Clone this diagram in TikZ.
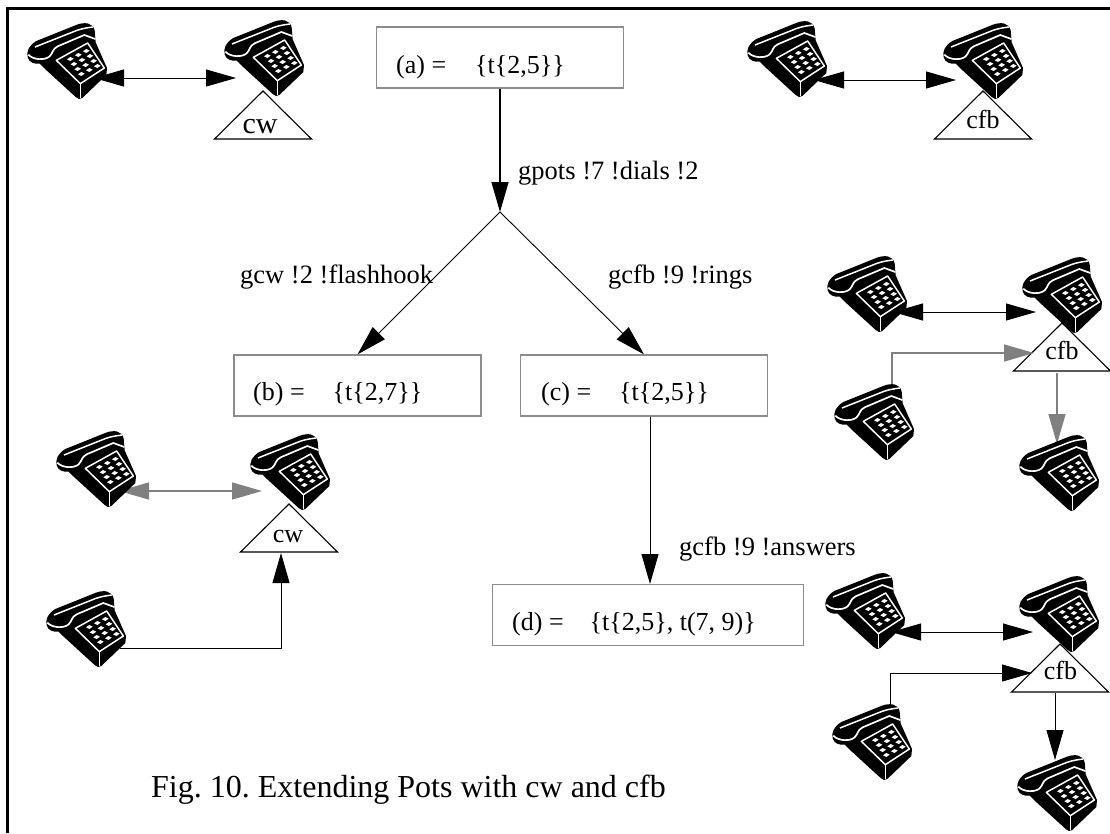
\documentclass[tikz,border=0pt]{standalone}
\usepackage{fontspec}
\setmainfont{Liberation Serif}
\usetikzlibrary{arrows.meta}
\tikzset{
  statebox/.style={draw=black!45,line width=1.2pt,minimum width=247pt,minimum height=61pt,inner sep=0pt},
  statetext/.style={anchor=base west,inner sep=0pt,font=\fontsize{26.5}{30}\selectfont},
  boxtext/.style={anchor=base west,inner sep=0pt,font=\fontsize{26}{30}\selectfont},
  featuretext/.style={anchor=base,inner sep=0pt,font=\fontsize{26}{30}\selectfont},
  oneway/.style={line width=0.9pt,-{Triangle[length=30pt,width=17pt]}},
  twoway/.style={line width=0.9pt,{Triangle[length=30pt,width=17pt]}-{Triangle[length=30pt,width=17pt]}},
  faded/.style={color=black!50,line width=1.5pt},
  feature/.style={draw,fill=white,line width=1.1pt,line join=miter},
  phone/.pic={
    \begin{scope}[scale=0.3333]
      % silhouette
      \fill (2,103) .. controls (-2,85) and (5,68) .. (28,54) -- (150,5)
        .. controls (172,-3) and (197,-2) .. (203,22) -- (206,58) -- (240,135)
        -- (238,156) -- (166,225) .. controls (160,230) and (152,229) .. (146,222)
        -- (52,136) -- (38,122) .. controls (22,124) and (6,118) .. (2,103) -- cycle;
      % white edges
      \draw[white,line width=1.5pt] (24,72) -- (150,22) .. controls (170,15) and (185,14) .. (198,12);
      \draw[white,line width=1.7pt] (4,95) .. controls (20,112) and (55,112) .. (68,100)
        .. controls (78,90) and (76,78) .. (92,70) -- (172,36) -- (205,48);
      \draw[white,line width=1.5pt,line join=round] (88,112) -- (182,60) -- (232,135) -- (160,182) -- cycle;
      \draw[white,line width=1.6pt] (160,182) -- (160,226);
      % keys
      \foreach \row in {0,1,2,3}
        \foreach \col in {0,1,2}
          \fill[white,shift={(130+24*\col+11*\row,108-12*\col+15*\row)}]
            (-10,1) -- (0,-6) -- (10,-1) -- (0,6) -- cycle;
    \end{scope}
  }
}
\begin{document}
\begin{tikzpicture}[x=1pt,y=-1pt]
  \useasboundingbox (0,0) rectangle (1110,833);
  % frame
  \draw[line width=3pt] (7,833) -- (7,8) -- (1110,8);

  % state boxes
  \node[statebox] (boxa) at (500,57.5) {};
  \node[statebox] (boxb) at (357.5,385.5) {};
  \node[statebox] (boxc) at (644,385.5) {};
  \node[statebox,minimum width=311pt] (boxd) at (648,615) {};
  \node[boxtext] (texta) at (396,73) {(a) =\hspace{29pt}\{t\{2,5\}\}};
  \node[boxtext] (textb) at (253,400) {(b) =\hspace{28pt}\{t\{2,7\}\}};
  \node[boxtext] (textc) at (541,400) {(c) =\hspace{28pt}\{t\{2,5\}\}};
  \node[boxtext] (textd) at (512,630) {(d) =\hspace{26pt}\{t\{2,5\}, t(7, 9)\}};

  % transitions
  \coordinate (fork) at (500,212);
  \coordinate (dtop) at (650,584);
  \draw[oneway,line width=1.3pt] (boxa.south) -- (fork);
  \draw[oneway] (fork) -- (boxb.north);
  \draw[oneway] (fork) -- (boxc.north);
  \draw[oneway] (boxc.south -| dtop) -- (dtop);
  \node[statetext] (gpots) at (518,179) {gpots !7 !dials !2};
  \node[statetext] (gcw) at (240,283) {gcw !2 !flashhook};
  \node[statetext] (gcfb) at (608,283) {gcfb !9 !rings};
  \node[statetext] (gans) at (679,555) {gcfb !9 !answers};

  % feature triangles
  \foreach \ax/\ay in {263/91,983/91,1062/323,1060/644,289/504}
    \draw[feature] (\ax,\ay) -- +(-48.5,48) -- +(48.5,48) -- cycle;
  \node[featuretext,font=\fontsize{30}{34}\selectfont] (cwtop) at (260,133) {cw};
  \node[featuretext] (cfbtop) at (983,128) {cfb};
  \node[featuretext] (cfbmid) at (1062,359) {cfb};
  \node[featuretext] (cfblow) at (1060.5,679) {cfb};
  \node[featuretext] (cwleft) at (288,542) {cw};

  % call lines, the phones go on top of them
  \coordinate (l1) at (94,78);  \coordinate (r1) at (236,78);
  \coordinate (l2) at (814,80); \coordinate (r2) at (956,80);
  \coordinate (l3) at (893,312); \coordinate (r3) at (1036,312);
  \coordinate (l4) at (891,632); \coordinate (r4) at (1033,632);
  \coordinate (l5) at (119,491); \coordinate (r5) at (262,491);
  \draw[twoway] (l1) -- (r1);
  \draw[twoway] (l2) -- (r2);
  \draw[twoway] (l3) -- (r3);
  \draw[twoway] (l4) -- (r4);
  \draw[twoway,faded] (l5) -- (r5);

  \coordinate (m1) at (892,397); \coordinate (m2) at (1034,353);
  \coordinate (m3) at (1057,373); \coordinate (m4) at (1057,444);
  \draw[oneway,faded] (m1) |- (m2);
  \draw[oneway,faded] (m3) -- (m4);
  \coordinate (n1) at (890,707); \coordinate (n2) at (1032,673);
  \coordinate (n3) at (1055,693); \coordinate (n4) at (1055,760);
  \draw[oneway] (n1) |- (n2);
  \draw[oneway] (n3) -- (n4);
  \coordinate (k1) at (120,648); \coordinate (k2) at (281,553);
  \draw[oneway] (k1) -| (k2);

  % phones
  \foreach \px/\py in {27/23,224/20,747/21,943/23,827/256,1022/257,834/384,1019/435,
    56/431,250/434,46/591,825/573,1019/576,832/704,1017/755}
    \pic at (\px,\py) {phone};

  \node[statetext,font=\fontsize{32}{36}\selectfont\frenchspacing] (caption) at (151,797) {Fig. 10. Extending Pots with cw and cfb};
\end{tikzpicture}
\end{document}
